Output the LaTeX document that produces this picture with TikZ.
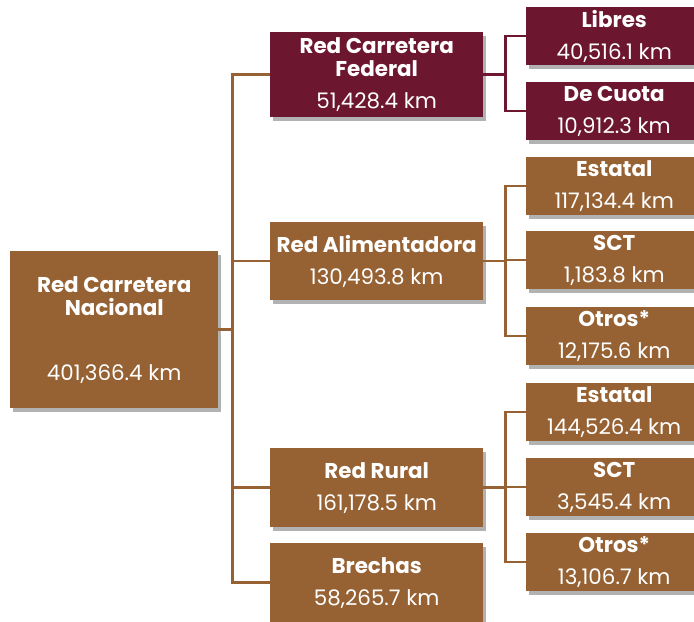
\documentclass[tikz,border=0pt]{standalone}
\usepackage{fontspec}
\setmainfont{Poppins}
\usetikzlibrary{positioning,shadows}
\definecolor{cafe}{RGB}{150,98,52}
\definecolor{guinda}{RGB}{108,22,48}
\tikzset{
    box/.style = {anchor=north west, align=center, inner sep=0pt, text=white,
        font=\fontsize{21.5}{23}\selectfont,
        drop shadow={shadow xshift=3bp, shadow yshift=-4bp, opacity=0.3, fill=black}},
    % brown boxes
    box_cafe/.style = {box, fill=cafe},
    % maroon boxes
    box_guinda/.style = {box, fill=guinda},
    box_mid/.style = {minimum width=213bp},
    box_leaf/.style = {minimum width=176bp, minimum height=58bp},
    link_cafe/.style = {draw=cafe, line width=2.5bp},
    link_guinda/.style = {draw=guinda, line width=2.5bp}
}

\begin{document}
\begin{tikzpicture}[x=1bp, y=-1bp]
    \useasboundingbox (0,0) rectangle (694,622);

    % root
    \node[box_cafe, minimum width=208bp, minimum height=157bp] (nacional) at (10,251)
        {\textbf{Red Carretera}\\\textbf{Nacional}\\[42bp]401,366.4 km};

    % second level
    \node[box_guinda, box_mid, minimum height=85bp] (federal) at (270,32)
        {\textbf{Red Carretera}\\\textbf{Federal}\\[9bp]51,428.4 km};
    \node[box_cafe, box_mid, minimum height=78bp] (alim) at (270,222)
        {\textbf{Red Alimentadora}\\[9bp]130,493.8 km};
    \node[box_cafe, box_mid, minimum height=79bp] (rural) at (270,448)
        {\textbf{Red Rural}\\[9bp]161,178.5 km};
    \node[box_cafe, box_mid, minimum height=79bp] (brechas) at (270,543)
        {\textbf{Brechas}\\[9bp]58,265.7 km};

    % third level
    \node[box_guinda, box_leaf] (libres) at (526,7)
        {\textbf{Libres}\\[9bp]40,516.1 km};
    \node[box_guinda, box_leaf] (cuota) at (526,82)
        {\textbf{De Cuota}\\[9bp]10,912.3 km};
    \node[box_cafe, box_leaf] (alim_est) at (526,157)
        {\textbf{Estatal}\\[9bp]117,134.4 km};
    \node[box_cafe, box_leaf] (alim_sct) at (526,231)
        {\textbf{SCT}\\[9bp]1,183.8 km};
    \node[box_cafe, box_leaf] (alim_otr) at (526,307)
        {\textbf{Otros*}\\[9bp]12,175.6 km};
    \node[box_cafe, box_leaf] (rural_est) at (526,383)
        {\textbf{Estatal}\\[9bp]144,526.4 km};
    \node[box_cafe, box_leaf] (rural_sct) at (526,458)
        {\textbf{SCT}\\[9bp]3,545.4 km};
    \node[box_cafe, box_leaf] (rural_otr) at (526,533)
        {\textbf{Otros*}\\[9bp]13,106.7 km};

    % connectors
    \draw[link_cafe] (nacional.east) -- ++(14,0) coordinate (trunk);
    \foreach \n in {federal,alim,rural,brechas}
        \draw[link_cafe] (trunk) |- (\n.west);

    \draw[link_guinda] (federal.east) -- ++(22,0) coordinate (fed_split);
    \foreach \n in {libres,cuota}
        \draw[link_guinda] (fed_split) |- (\n.west);

    \draw[link_cafe] (alim.east) -- ++(22,0) coordinate (alim_split);
    \foreach \n in {alim_est,alim_sct,alim_otr}
        \draw[link_cafe] (alim_split) |- (\n.west);

    \draw[link_cafe] (rural.east) -- ++(22,0) coordinate (rural_split);
    \foreach \n in {rural_est,rural_sct,rural_otr}
        \draw[link_cafe] (rural_split) |- (\n.west);
\end{tikzpicture}
\end{document}
